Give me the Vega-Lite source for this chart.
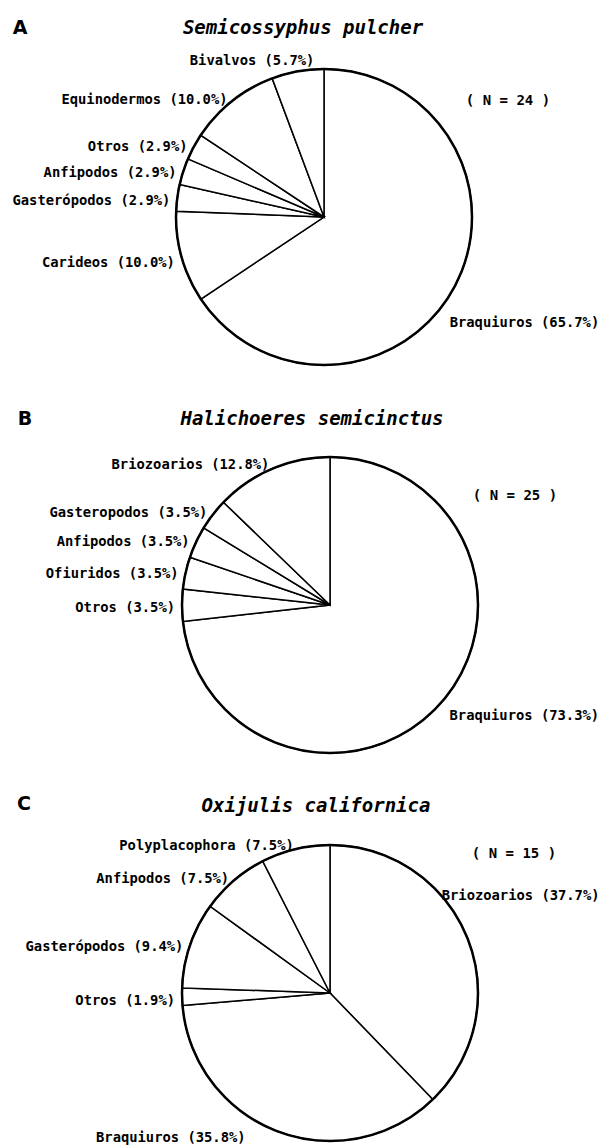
{
  "$schema": "https://vega.github.io/schema/vega-lite/v6.json",
  "background": "white",
  "padding": {"left": 12, "top": 19, "right": 0, "bottom": 0},
  "spacing": 88,
  "bounds": "flush",
  "config": {"view": {"stroke": null}},
  "vconcat": [
    {
      "width": 300,
      "height": 300,
      "data": {"values": [
        {"grupo": "Braquiuros", "pct": 65.7, "orden": 1, "etiqueta": "Braquiuros (65.7%)"},
        {"grupo": "Carideos", "pct": 10.0, "orden": 2, "etiqueta": "Carideos (10.0%)"},
        {"grupo": "Gasterópodos", "pct": 2.9, "orden": 3, "etiqueta": "Gasterópodos (2.9%)"},
        {"grupo": "Anfipodos", "pct": 2.9, "orden": 4, "etiqueta": "Anfipodos (2.9%)"},
        {"grupo": "Otros", "pct": 2.9, "orden": 5, "etiqueta": "Otros (2.9%)"},
        {"grupo": "Equinodermos", "pct": 10.0, "orden": 6, "etiqueta": "Equinodermos (10.0%)"},
        {"grupo": "Bivalvos", "pct": 5.7, "orden": 7, "etiqueta": "Bivalvos (5.7%)"}
      ]},
      "layer": [
        {"mark": {"type": "arc", "outerRadius": 148, "fill": "white", "stroke": "black", "strokeWidth": 1.5},
         "encoding": {"theta": {"field": "pct", "type": "quantitative", "stack": true}, "order": {"field": "orden", "type": "quantitative"}}},
        {"data": {"values": [{}]}, "mark": {"type": "point", "shape": "circle", "size": 87616, "filled": false, "stroke": "black", "strokeWidth": 2.5, "opacity": 1}},
        {"mark": {"type": "text", "radius": 155, "align": "right", "baseline": "middle", "dy": 4, "font": "'DejaVu Sans Mono', monospace", "fontSize": 13.8, "fontWeight": "bold", "color": "black"},
         "encoding": {"theta": {"field": "pct", "type": "quantitative", "stack": true}, "order": {"field": "orden", "type": "quantitative"},
           "text": {"condition": {"test": "datum.grupo === 'Braquiuros' || datum.grupo === 'Bivalvos'", "value": ""}, "field": "etiqueta", "type": "nominal"}}},
        {"mark": {"type": "text", "radius": 155, "align": "left", "baseline": "middle", "dx": -11, "dy": 33, "font": "'DejaVu Sans Mono', monospace", "fontSize": 13.8, "fontWeight": "bold", "color": "black"},
         "encoding": {"theta": {"field": "pct", "type": "quantitative", "stack": true}, "order": {"field": "orden", "type": "quantitative"},
           "text": {"condition": {"test": "datum.grupo === 'Braquiuros'", "field": "etiqueta", "type": "nominal"}, "value": ""}}},
        {"mark": {"type": "text", "radius": 155, "align": "right", "baseline": "middle", "dx": 18, "dy": -3, "font": "'DejaVu Sans Mono', monospace", "fontSize": 13.8, "fontWeight": "bold", "color": "black"},
         "encoding": {"theta": {"field": "pct", "type": "quantitative", "stack": true}, "order": {"field": "orden", "type": "quantitative"},
           "text": {"condition": {"test": "datum.grupo === 'Bivalvos'", "field": "etiqueta", "type": "nominal"}, "value": ""}}},
        {"data": {"values": [{"letra": "A", "especie": "Semicossyphus pulcher", "n": "( N = 24 )"}]},
         "layer": [
           {"mark": {"type": "text", "align": "center", "baseline": "middle", "dx": -304, "dy": -189, "font": "DejaVu Sans", "fontSize": 19, "fontWeight": "bold", "color": "black"}, "encoding": {"text": {"field": "letra", "type": "nominal"}}},
           {"mark": {"type": "text", "align": "center", "baseline": "middle", "dx": -21, "dy": -189, "font": "'DejaVu Sans Mono', monospace", "fontSize": 19, "fontStyle": "italic", "fontWeight": "bold", "color": "black"}, "encoding": {"text": {"field": "especie", "type": "nominal"}}},
           {"mark": {"type": "text", "align": "center", "baseline": "middle", "dx": 184, "dy": -116, "font": "'DejaVu Sans Mono', monospace", "fontSize": 14, "fontWeight": "bold", "color": "black"}, "encoding": {"text": {"field": "n", "type": "nominal"}}}
         ]}
      ]
    },
    {
      "width": 312,
      "height": 300,
      "data": {"values": [
        {"grupo": "Braquiuros", "pct": 73.3, "orden": 1, "etiqueta": "Braquiuros (73.3%)"},
        {"grupo": "Otros", "pct": 3.5, "orden": 2, "etiqueta": "Otros (3.5%)"},
        {"grupo": "Ofiuridos", "pct": 3.5, "orden": 3, "etiqueta": "Ofiuridos (3.5%)"},
        {"grupo": "Anfipodos", "pct": 3.5, "orden": 4, "etiqueta": "Anfipodos (3.5%)"},
        {"grupo": "Gasteropodos", "pct": 3.5, "orden": 5, "etiqueta": "Gasteropodos (3.5%)"},
        {"grupo": "Briozoarios", "pct": 12.8, "orden": 6, "etiqueta": "Briozoarios (12.8%)"}
      ]},
      "layer": [
        {"mark": {"type": "arc", "outerRadius": 148, "fill": "white", "stroke": "black", "strokeWidth": 1.5},
         "encoding": {"theta": {"field": "pct", "type": "quantitative", "stack": true}, "order": {"field": "orden", "type": "quantitative"}}},
        {"data": {"values": [{}]}, "mark": {"type": "point", "shape": "circle", "size": 87616, "filled": false, "stroke": "black", "strokeWidth": 2.5, "opacity": 1}},
        {"mark": {"type": "text", "radius": 155, "align": "right", "baseline": "middle", "dy": 3, "font": "'DejaVu Sans Mono', monospace", "fontSize": 13.8, "fontWeight": "bold", "color": "black"},
         "encoding": {"theta": {"field": "pct", "type": "quantitative", "stack": true}, "order": {"field": "orden", "type": "quantitative"},
           "text": {"condition": {"test": "datum.grupo === 'Braquiuros'", "value": ""}, "field": "etiqueta", "type": "nominal"}}},
        {"mark": {"type": "text", "radius": 155, "align": "left", "baseline": "middle", "dx": 4, "dy": 8, "font": "'DejaVu Sans Mono', monospace", "fontSize": 13.8, "fontWeight": "bold", "color": "black"},
         "encoding": {"theta": {"field": "pct", "type": "quantitative", "stack": true}, "order": {"field": "orden", "type": "quantitative"},
           "text": {"condition": {"test": "datum.grupo === 'Braquiuros'", "field": "etiqueta", "type": "nominal"}, "value": ""}}},
        {"data": {"values": [{"letra": "B", "especie": "Halichoeres semicinctus", "n": "( N = 25 )"}]},
         "layer": [
           {"mark": {"type": "text", "align": "center", "baseline": "middle", "dx": -305, "dy": -186, "font": "DejaVu Sans", "fontSize": 19, "fontWeight": "bold", "color": "black"}, "encoding": {"text": {"field": "letra", "type": "nominal"}}},
           {"mark": {"type": "text", "align": "center", "baseline": "middle", "dx": -18, "dy": -186, "font": "'DejaVu Sans Mono', monospace", "fontSize": 19, "fontStyle": "italic", "fontWeight": "bold", "color": "black"}, "encoding": {"text": {"field": "especie", "type": "nominal"}}},
           {"mark": {"type": "text", "align": "center", "baseline": "middle", "dx": 185, "dy": -109, "font": "'DejaVu Sans Mono', monospace", "fontSize": 14, "fontWeight": "bold", "color": "black"}, "encoding": {"text": {"field": "n", "type": "nominal"}}}
         ]}
      ]
    },
    {
      "width": 312,
      "height": 300,
      "data": {"values": [
        {"grupo": "Briozoarios", "pct": 37.7, "orden": 1, "etiqueta": "Briozoarios (37.7%)"},
        {"grupo": "Braquiuros", "pct": 35.8, "orden": 2, "etiqueta": "Braquiuros (35.8%)"},
        {"grupo": "Otros", "pct": 1.9, "orden": 3, "etiqueta": "Otros (1.9%)"},
        {"grupo": "Gasterópodos", "pct": 9.4, "orden": 4, "etiqueta": "Gasterópodos (9.4%)"},
        {"grupo": "Anfipodos", "pct": 7.5, "orden": 5, "etiqueta": "Anfipodos (7.5%)"},
        {"grupo": "Polyplacophora", "pct": 7.5, "orden": 6, "etiqueta": "Polyplacophora (7.5%)"}
      ]},
      "layer": [
        {"mark": {"type": "arc", "outerRadius": 148, "fill": "white", "stroke": "black", "strokeWidth": 1.5},
         "encoding": {"theta": {"field": "pct", "type": "quantitative", "stack": true}, "order": {"field": "orden", "type": "quantitative"}}},
        {"data": {"values": [{}]}, "mark": {"type": "point", "shape": "circle", "size": 87616, "filled": false, "stroke": "black", "strokeWidth": 2.5, "opacity": 1}},
        {"mark": {"type": "text", "radius": 155, "align": "right", "baseline": "middle", "dy": 4, "font": "'DejaVu Sans Mono', monospace", "fontSize": 13.8, "fontWeight": "bold", "color": "black"},
         "encoding": {"theta": {"field": "pct", "type": "quantitative", "stack": true}, "order": {"field": "orden", "type": "quantitative"},
           "text": {"condition": {"test": "datum.grupo === 'Braquiuros' || datum.grupo === 'Briozoarios'", "value": ""}, "field": "etiqueta", "type": "nominal"}}},
        {"mark": {"type": "text", "radius": 155, "align": "left", "baseline": "middle", "dx": -32, "dy": -39, "font": "'DejaVu Sans Mono', monospace", "fontSize": 13.8, "fontWeight": "bold", "color": "black"},
         "encoding": {"theta": {"field": "pct", "type": "quantitative", "stack": true}, "order": {"field": "orden", "type": "quantitative"},
           "text": {"condition": {"test": "datum.grupo === 'Briozoarios'", "field": "etiqueta", "type": "nominal"}, "value": ""}}},
        {"mark": {"type": "text", "radius": 155, "align": "right", "baseline": "middle", "dx": -30, "dy": 0, "font": "'DejaVu Sans Mono', monospace", "fontSize": 13.8, "fontWeight": "bold", "color": "black"},
         "encoding": {"theta": {"field": "pct", "type": "quantitative", "stack": true}, "order": {"field": "orden", "type": "quantitative"},
           "text": {"condition": {"test": "datum.grupo === 'Braquiuros'", "field": "etiqueta", "type": "nominal"}, "value": ""}}},
        {"data": {"values": [{"letra": "C", "especie": "Oxijulis californica", "n": "( N = 15 )"}]},
         "layer": [
           {"mark": {"type": "text", "align": "center", "baseline": "middle", "dx": -306, "dy": -189, "font": "DejaVu Sans", "fontSize": 19, "fontWeight": "bold", "color": "black"}, "encoding": {"text": {"field": "letra", "type": "nominal"}}},
           {"mark": {"type": "text", "align": "center", "baseline": "middle", "dx": -14, "dy": -187, "font": "'DejaVu Sans Mono', monospace", "fontSize": 19, "fontStyle": "italic", "fontWeight": "bold", "color": "black"}, "encoding": {"text": {"field": "especie", "type": "nominal"}}},
           {"mark": {"type": "text", "align": "center", "baseline": "middle", "dx": 184, "dy": -139, "font": "'DejaVu Sans Mono', monospace", "fontSize": 14, "fontWeight": "bold", "color": "black"}, "encoding": {"text": {"field": "n", "type": "nominal"}}}
         ]}
      ]
    }
  ]
}
